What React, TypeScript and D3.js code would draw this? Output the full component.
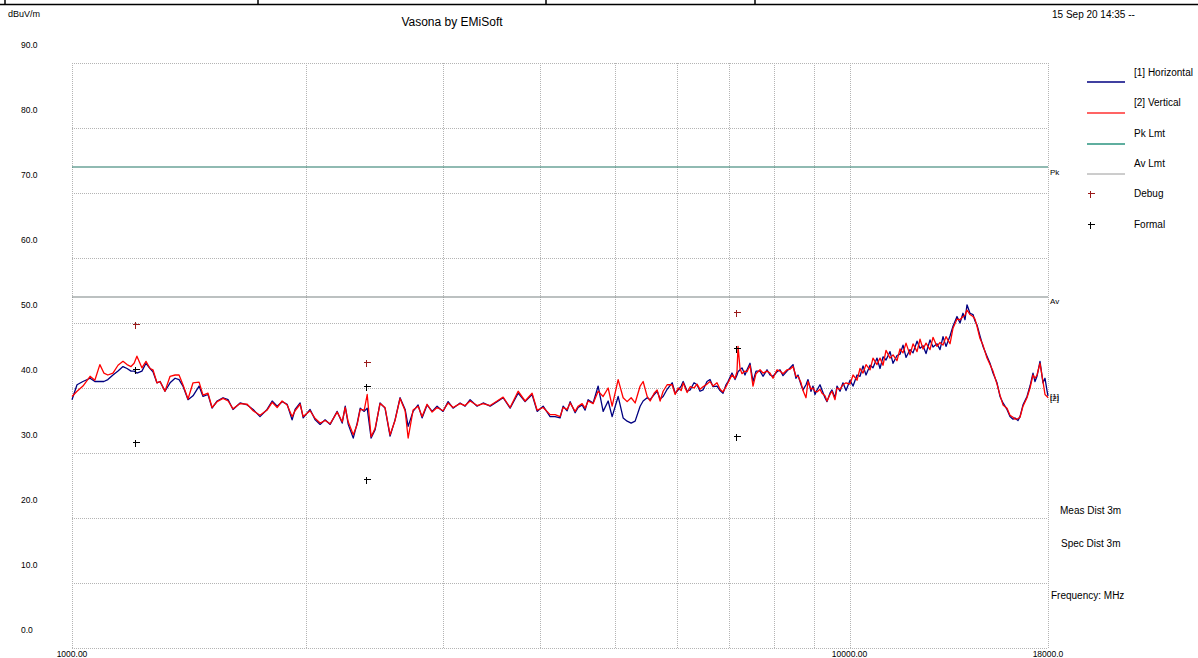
import React from "react";
import * as d3 from "d3";

// Sweep frequencies (MHz) shared by both traces
const freqs = [
  1000,1015,1033,1055,1070,1086,1099,1112,1129,1146,1163,1177,1191,1202,1212,1230,1245,1260,1271,1286,
  1298,1317,1337,1357,1373,1389,1410,1431,1457,1474,1496,1514,1537,1564,1588,1611,1645,1680,1710,1745,
  1782,1809,1836,1863,1891,1919,1936,1965,1983,2024,2055,2085,2116,2148,2193,2226,2246,2266,2300,2327,
  2348,2376,2397,2425,2454,2490,2527,2565,2603,2642,2682,2706,2746,2787,2820,2862,2905,2948,3001,3046,
  3091,3156,3203,3251,3319,3379,3450,3522,3585,3660,3748,3826,3906,3965,4036,4120,
  4182,4244,4282,4333,4372,4437,4477,4530,4570,4611,4680,4750,4821,4893,4951,5040,5115,5176,5238,5300,
  5379,5427,5492,5541,5607,5657,5707,5758,5827,5914,5967,6020,6074,6110,6182,6238,6310,6366,6423,6480,
  6557,6616,6675,6754,6815,6875,6937,6978,7061,7124,7166,7188,7230,7273,7338,7382,7448,7514,7581,7672,
  7740,7832,7902,7973,8068,8139,8212,8310,8384,8459,8534,8585,8662,8713,8791,8843,8922,8975,9028,9082,
  9163,9217,9299,9355,9438,9494,9579,9636,9722,9808,9897,10015,10105,10225,10316,10408,10501,10627,10720,10848,
  10945,11043,11141,11274,11375,11510,11613,11717,11821,11962,12069,12213,12322,12432,12543,12692,12805,12958,13073,13190,
  13307,13466,13586,13748,13870,13994,14077,14161,14287,14415,14500,14587,14717,14848,15025,15159,15294,15477,15615,15754,
  15942,16084,16228,16325,16470,16568,16716,16915,17066,17218,17320,17423,17578,17735,17841,17947,18000,
];

// [1] Horizontal (dBuV/m)
const horizontal = [
  38.2,40.5,41.0,41.5,41.0,41.0,41.0,41.3,42.0,42.6,43.3,43.0,42.6,42.6,42.3,42.6,43.8,43.0,42.5,40.8,
  41.0,39.5,40.8,41.5,41.3,40.3,38.2,38.8,40.3,38.7,39.0,36.9,38.0,38.5,38.2,36.7,37.7,37.4,36.7,35.6,
  36.7,38.0,37.2,37.9,37.5,35.1,36.7,37.7,35.4,36.7,35.1,34.4,35.1,34.4,36.4,34.6,37.2,34.4,32.3,34.6,
  36.9,36.4,36.9,32.3,33.6,37.7,36.9,32.6,35.1,38.5,36.7,34.1,36.4,37.4,35.4,37.4,36.4,37.2,36.4,37.9,
  36.9,37.7,37.2,38.2,37.2,37.7,37.2,37.9,38.5,36.9,39.2,37.9,39.0,36.4,37.2,35.6,
  35.6,35.4,37.2,36.5,37.9,36.2,37.0,37.4,36.6,38.2,37.7,40.3,36.4,38.0,35.6,38.7,35.4,34.9,34.6,34.9,
  37.2,38.0,38.5,38.2,39.0,39.5,38.3,38.7,39.8,40.8,39.2,39.7,40.3,41.0,39.5,39.7,40.8,40.5,39.5,39.7,
  41.0,41.3,40.2,40.3,39.6,39.2,40.5,41.0,42.3,41.3,42.0,42.5,42.8,43.1,42.0,42.8,43.8,41.0,42.6,42.6,
  41.8,42.8,42.0,41.8,42.5,42.8,41.9,42.6,43.1,43.6,41.5,42.0,40.5,39.7,40.5,41.3,39.5,40.3,39.0,39.7,
  40.5,39.7,38.5,37.9,39.2,39.7,38.5,40.3,39.5,40.8,39.6,41.2,40.3,42.0,41.8,43.4,42.0,43.5,43.1,44.6,
  43.0,44.8,44.3,45.6,43.8,45.0,45.2,46.6,44.7,45.9,45.4,47.2,46.1,46.5,45.3,47.4,46.3,46.8,45.9,47.9,
  46.4,48.0,49.5,51.0,50.0,51.5,50.5,52.8,51.5,51.3,50.3,49.7,48.0,46.4,44.9,43.8,42.3,40.8,38.7,37.7,
  36.7,35.6,35.2,35.4,35.0,35.6,37.4,38.7,40.3,42.3,41.0,41.8,44.1,40.8,41.5,39.6,38.8,
];

// [2] Vertical (dBuV/m)
const vertical = [
  38.7,39.5,40.3,41.8,41.2,43.6,42.3,42.0,42.3,43.5,44.1,43.6,43.3,43.8,44.9,43.1,44.1,43.0,42.8,40.8,
  41.0,39.5,41.8,42.0,42.0,40.5,38.3,40.8,40.9,38.9,39.2,37.0,37.9,38.4,38.0,36.8,37.6,37.5,36.5,35.8,
  36.6,37.8,37.0,38.0,37.4,35.6,36.5,37.5,35.6,36.5,35.3,34.6,35.0,34.5,36.3,34.8,37.0,34.8,32.8,34.4,
  36.7,36.6,39.0,32.5,33.8,37.6,37.0,32.8,35.0,38.4,36.5,32.3,36.6,37.2,35.6,37.5,36.3,37.0,36.5,37.7,
  37.0,37.6,37.3,38.0,37.3,37.6,37.3,38.0,38.6,37.0,39.5,38.0,39.2,36.6,37.0,35.9,
  35.9,35.6,37.0,36.7,37.7,36.4,37.2,37.6,36.9,38.0,37.6,39.5,38.7,40.0,37.2,41.3,38.5,37.9,38.5,37.7,
  40.3,41.0,38.7,38.0,39.2,39.7,38.0,39.5,40.5,40.5,39.0,40.0,39.6,40.8,39.3,40.2,40.0,40.6,39.8,40.2,
  40.6,41.0,40.3,40.8,39.8,39.4,40.2,40.8,42.0,41.5,42.5,46.4,43.0,42.2,42.6,42.5,43.5,40.3,42.2,42.8,
  42.3,42.6,42.3,41.5,42.8,42.6,42.2,42.8,42.9,43.3,41.8,41.8,40.8,39.6,38.5,41.0,39.8,40.0,39.5,39.4,
  39.8,39.2,38.8,38.0,39.0,39.5,38.2,40.0,39.8,40.5,40.8,40.6,42.0,41.2,43.0,42.3,43.6,42.8,44.6,43.6,
  44.6,43.5,45.8,44.6,45.1,44.2,46.0,45.4,46.9,45.1,46.8,45.6,47.5,46.0,46.9,45.9,47.8,46.4,47.0,46.6,
  47.9,46.8,49.2,50.6,50.5,51.0,51.2,52.0,51.3,51.0,50.6,49.5,47.6,46.6,44.6,43.6,42.6,40.6,38.9,37.4,
  36.9,35.8,35.5,35.2,35.3,35.5,37.2,38.5,40.0,42.0,41.5,42.0,43.8,41.0,39.0,38.7,38.5,
];

const yTicks = [0, 10, 20, 30, 40, 50, 60, 70, 80, 90];
const xGrid = [1000, 2000, 3000, 4000, 5000, 6000, 7000, 8000, 9000, 10000, 18000];
const xLabelFreqs = [1000, 10000, 18000];
const xLabelTexts = ["1000.00", "10000.00", "18000.0"];
const pkLimit = 74;
const avLimit = 54;
const debugFreqs = [1205, 2390, 7145];
const debugValues = [49.8, 44.0, 51.7];
const formalFreqs = [1205, 1205, 2390, 2390, 7145, 7145];
const formalValues = [42.9, 31.7, 40.3, 26.0, 46.2, 32.6];

const legendNames = ["[1] Horizontal", "[2] Vertical", "Pk Lmt", "Av Lmt", "Debug", "Formal"];

const FONT = "'Liberation Sans', Arial, sans-serif";

export default function App() {
  const x = d3.scaleLog().domain([1000, 18000]).range([72, 1048]);
  const y = d3.scaleLinear().domain([0, 90]).range([648, 63]);
  const px = (v: number) => Math.round(v) + 0.5;
  const mkLine = (vals: number[]) =>
    d3
      .line<number>()
      .x((_, i) => x(freqs[i]))
      .y((d) => y(d))(vals) as string;

  const plus = (cx: number, cy: number, color: string, key: string) => {
    const X = px(cx);
    const Y = px(cy);
    return (
      <g key={key} stroke={color} strokeWidth={1} shapeRendering="crispEdges">
        <line x1={X - 3} x2={X + 4} y1={Y} y2={Y} />
        <line x1={X} x2={X} y1={Y - 3} y2={Y + 4} />
      </g>
    );
  };

  const legendY = [72, 102, 133, 163, 193, 224];

  return (
    <svg
      width={1198}
      height={658}
      style={{ position: "fixed", left: 0, top: 0, display: "block", background: "#fff" }}
      fontFamily={FONT}
    >
      <rect x={0} y={0} width={1198} height={658} fill="#fff" />
      {/* top header rule */}
      <line x1={0} x2={1198} y1={4.5} y2={4.5} stroke="#000" strokeWidth={1.5} />
      {[5, 258, 546, 755].map((t) => (
        <line key={t} x1={t} x2={t} y1={0} y2={4.5} stroke="#000" strokeWidth={1.5} />
      ))}
      <text x={8} y={17} fontSize={9} fill="#000">dBuV/m</text>
      <text x={452} y={26} fontSize={12} textAnchor="middle" fill="#000">Vasona by EMiSoft</text>
      <text x={1052} y={18} fontSize={10} fill="#000">15 Sep 20 14:35 --</text>

      {/* grid */}
      <g shapeRendering="crispEdges">
        {yTicks.map((t) => (
          <line key={"gy" + t} x1={72} x2={1048} y1={px(y(t))} y2={px(y(t))} stroke="#b4b4b4" strokeWidth={1} strokeDasharray="1,1" />
        ))}
        {xGrid.map((f) => (
          <line key={"gx" + f} x1={px(x(f))} x2={px(x(f))} y1={63} y2={648} stroke="#b4b4b4" strokeWidth={1} strokeDasharray="1,1" />
        ))}
      </g>
      {/* limits */}
      <line x1={72} x2={1048} y1={y(pkLimit)} y2={y(pkLimit)} stroke="#237766" strokeWidth={1.2} />
      <line x1={72} x2={1048} y1={y(avLimit)} y2={y(avLimit) } stroke="#7a8483" strokeWidth={1.2} />
      {yTicks.map((t) => (
        <text key={"ty" + t} x={21} y={y(t) - 15} fontSize={8.5} fill="#000">{t.toFixed(1)}</text>
      ))}
      {xLabelFreqs.map((f, i) => (
        <text key={"tx" + f} x={x(f)} y={657} fontSize={8.5} textAnchor="middle" fill="#000">{xLabelTexts[i]}</text>
      ))}
      <text x={1050} y={y(pkLimit) + 8} fontSize={8} fill="#000">Pk</text>
      <text x={1050} y={y(avLimit) + 7} fontSize={8} fill="#000">Av</text>

      {/* traces */}
      <path d={mkLine(horizontal)} fill="none" stroke="#000080" strokeWidth={1.3} strokeLinejoin="round" />
      <path d={mkLine(vertical)} fill="none" stroke="#ff0000" strokeWidth={1.3} strokeLinejoin="round" />
      <text x={1050} y={y(horizontal[horizontal.length - 1]) + 3} fontSize={8} fill="#000">[1]</text>
      <text x={1050} y={y(vertical[vertical.length - 1]) + 3} fontSize={8} fill="#000">[2]</text>

      {/* markers */}
      {debugFreqs.map((f, i) => plus(x(f), y(debugValues[i]), "#9a1a1a", "d" + i))}
      {formalFreqs.map((f, i) => plus(x(f), y(formalValues[i]), "#000", "f" + i))}

      {/* legend */}
      <line x1={1087} x2={1125} y1={82} y2={82} stroke="#000080" strokeWidth={1.3} />
      <line x1={1087} x2={1125} y1={113} y2={113} stroke="#ff3030" strokeWidth={1.3} />
      <line x1={1087} x2={1125} y1={144} y2={144} stroke="#5fae9f" strokeWidth={2} />
      <line x1={1087} x2={1125} y1={174} y2={174} stroke="#9a9a9a" strokeWidth={1} />
      {plus(1090, 193, "#9a1a1a", "ld")}
      {plus(1090, 224, "#000", "lf")}
      {legendNames.map((n, i) => (
        <text key={n} x={1134} y={legendY[i] + 3.5} fontSize={10} fill="#000">{n}</text>
      ))}

      <text x={1060} y={514} fontSize={10} fill="#000">Meas  Dist  3m</text>
      <text x={1061} y={547} fontSize={10} fill="#000">Spec  Dist  3m</text>
      <text x={1051} y={599} fontSize={10} fill="#000">Frequency: MHz</text>
    </svg>
  );
}
